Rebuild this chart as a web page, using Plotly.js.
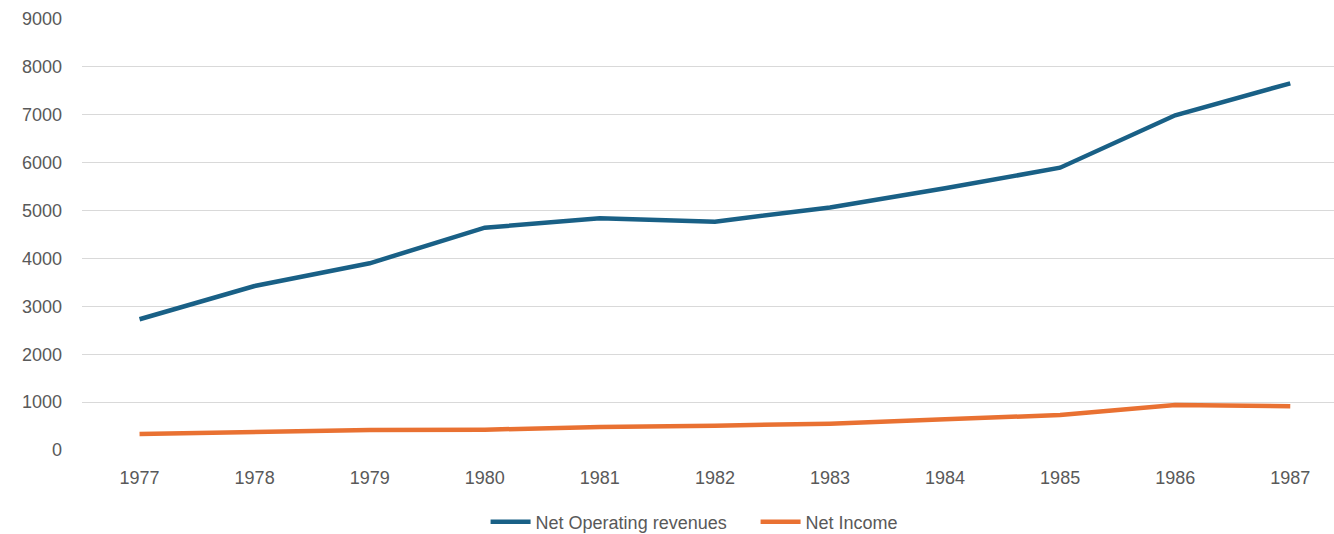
<!DOCTYPE html>
<html>
<head>
<meta charset="utf-8">
<script src="https://cdn.plot.ly/plotly-3.0.1.min.js"></script>
<style>html,body{margin:0;padding:0;background:#fff;}#chart{width:1334px;height:534px;}</style>
</head>
<body>
<div id="chart"></div>
<script>
const years = ["1977","1978","1979","1980","1981","1982","1983","1984","1985","1986","1987"];
const netOperatingRevenues = [2730, 3424, 3898, 4642, 4838, 4768, 5065, 5464, 5895, 6989, 7657];
const netIncome = [334, 369, 418, 424, 480, 508, 550, 640, 731, 940, 912];
const seriesNames = ["Net Operating revenues", "Net Income"];

const traces = [
  {x: years, y: netOperatingRevenues, name: seriesNames[0], type: "scatter", mode: "lines",
   line: {color: "#196086", width: 4.5}},
  {x: years, y: netIncome, name: seriesNames[1], type: "scatter", mode: "lines",
   line: {color: "#E97132", width: 4.5}}
];

const layout = {
  width: 1334, height: 534,
  margin: {l: 82, r: 0, t: 19, b: 84, autoexpand: false},
  paper_bgcolor: "#fff", plot_bgcolor: "#fff",
  font: {family: "'Liberation Sans', Arial, sans-serif", size: 18, color: "#595959"},
  showlegend: true,
  legend: {orientation: "h", x: 0.538, xanchor: "center", y: -0.167, yanchor: "middle",
           font: {size: 18, color: "#595959"}, itemwidth: 40, traceorder: "normal",
           entrywidth: 215},
  xaxis: {type: "category", range: [-0.5, 10.38], showgrid: false, zeroline: false,
          showline: false, ticks: "", ticklabelstandoff: 15, fixedrange: true},
  yaxis: {range: [0, 9000], dtick: 1000, tick0: 0, showgrid: true, gridcolor: "#d9d9d9",
          gridwidth: 1, zeroline: false, showline: false, ticks: "", ticklabelstandoff: 19,
          fixedrange: true}
};

Plotly.newPlot("chart", traces, layout, {displayModeBar: false, staticPlot: true});
</script>
</body>
</html>
